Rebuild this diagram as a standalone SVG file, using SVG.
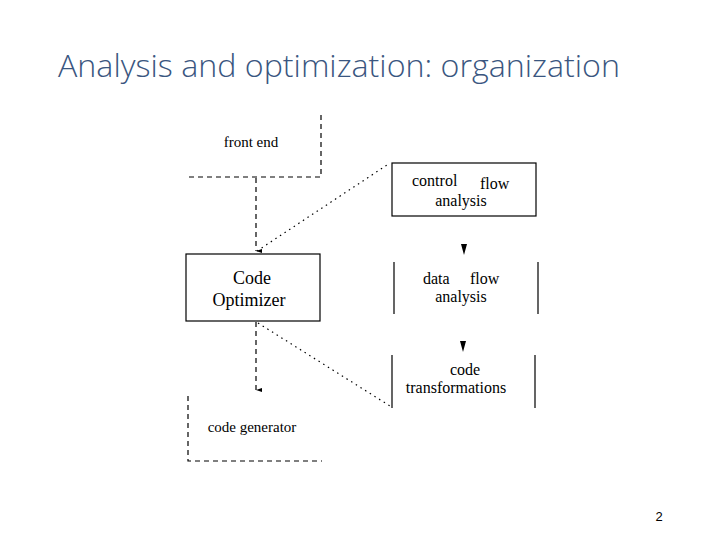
<svg xmlns="http://www.w3.org/2000/svg" width="720" height="540" viewBox="0 0 720 540">
<style>
.title{font-family:"Open Sans","Liberation Sans",sans-serif;font-size:32px;fill:#3A5680;font-weight:300}
.lbl{font-family:"Liberation Serif","DejaVu Serif",serif;fill:#000}
.sm{font-size:15px}
.md{font-size:16px}
.lg{font-size:18px}
.dash{stroke:#000;stroke-width:1.2;fill:none;stroke-dasharray:5,4}
.dot{stroke:#000;stroke-width:1.2;fill:none;stroke-dasharray:1.5,4}
.solid{stroke:#000;stroke-width:1.2;fill:none}
</style>
<defs>
<marker id="ah" markerWidth="4" markerHeight="6" refX="2" refY="6" orient="auto" markerUnits="userSpaceOnUse">
<path d="M0,0 L4,0 L2,6 Z" fill="#000"/>
</marker>
</defs>
<rect width="720" height="540" fill="#fff"/>
<text class="title" x="58" y="77" textLength="562" lengthAdjust="spacingAndGlyphs">Analysis and optimization: organization</text>
<g id="front-end">
<path class="dash" d="M321,115 V177 H187"/>
<text class="lbl sm" x="251" y="147" text-anchor="middle">front end</text>
</g>
<g id="code-optimizer">
<rect class="solid" x="186" y="254" width="134" height="67"/>
<text class="lbl lg" x="252" y="284" text-anchor="middle">Code</text>
<text class="lbl lg" x="249" y="306" text-anchor="middle">Optimizer</text>
</g>
<g id="code-generator">
<path class="dash" d="M188,396 V461 H322"/>
<text class="lbl sm" x="252" y="432" text-anchor="middle">code generator</text>
</g>
<g id="control-flow">
<rect class="solid" x="392" y="163" width="144" height="53"/>
<text class="lbl md" x="412" y="186">control</text>
<text class="lbl md" x="480" y="189">flow</text>
<text class="lbl md" x="461" y="206" text-anchor="middle">analysis</text>
</g>
<g id="data-flow">
<path class="solid" d="M394,262 V314 M538,262 V314"/>
<text class="lbl md" x="423" y="284">data</text>
<text class="lbl md" x="470" y="284">flow</text>
<text class="lbl md" x="461" y="302" text-anchor="middle">analysis</text>
</g>
<g id="code-transformations">
<path class="solid" d="M392,355 V408 M535,355 V408"/>
<text class="lbl md" x="465" y="375" text-anchor="middle">code</text>
<text class="lbl md" x="456" y="393" text-anchor="middle">transformations</text>
</g>
<g id="connectors">
<line class="dash" x1="256" y1="178" x2="256" y2="251" marker-end="url(#ah)"/>
<line class="dash" x1="256" y1="322" x2="256" y2="390" marker-end="url(#ah)"/>
<line class="dot" x1="257" y1="251" x2="387" y2="165"/>
<line class="dot" x1="258" y1="323" x2="390" y2="406"/>
<path d="M461,244 L467,244 L464,255 Z" fill="#000"/>
<path d="M460,341 L466,341 L463,352 Z" fill="#000"/>
</g>
<text x="659" y="521" text-anchor="middle" font-family="Liberation Sans, sans-serif" font-size="13" fill="#000">2</text>
</svg>
